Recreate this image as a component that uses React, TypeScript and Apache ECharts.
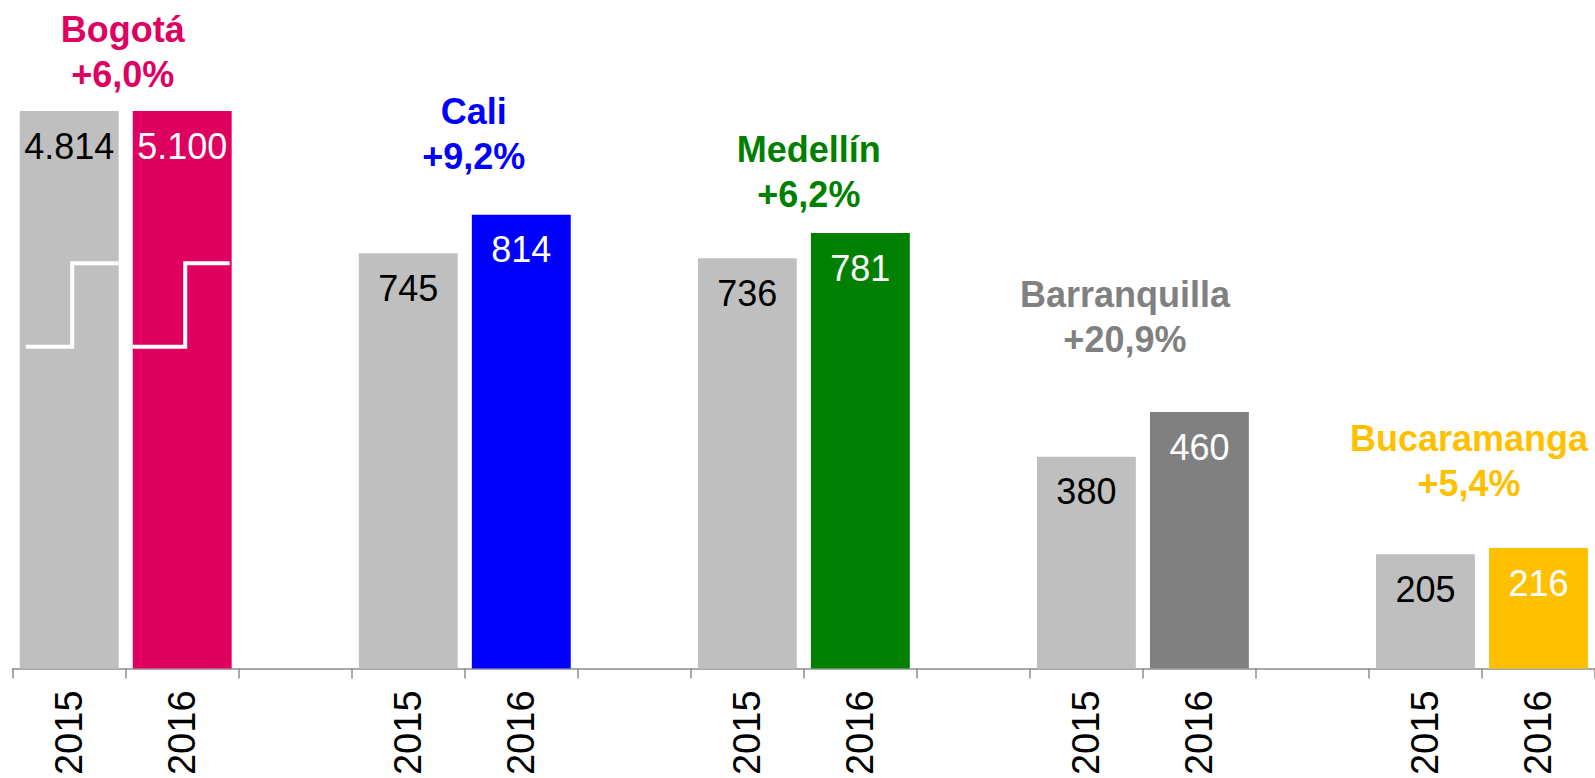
import React, { useEffect, useRef } from "react";
import * as echarts from "echarts";

// ---- data ----
const categories = ["2015", "2016", "", "2015", "2016", "", "2015", "2016", "", "2015", "2016", "", "2015", "2016"];
const cities = ["Bogotá", "Cali", "Medellín", "Barranquilla", "Bucaramanga"];
const growthLabels = ["+6,0%", "+9,2%", "+6,2%", "+20,9%", "+5,4%"];
const values2015 = [4814, 745, 736, 380, 205];
const values2016 = [5100, 814, 781, 460, 216];

// ---- styles / layout ----
const cityColors = ["#DF0060", "#0000FF", "#008000", "#808080", "#FFC000"];
const baseColor = "#BFBFBF";
const FONT = "'Liberation Sans', Arial, sans-serif";
const Y_MAX = 1000; // axis is cut: larger bars are drawn to the top with a break mark
const BREAK_LOW = 577;
const BREAK_HIGH = 727;
const labelLift = [14, 36, 16, 50, 42];
const labelShift = [-3, 9, 5, -18, -13];

const fmt = (v: number) => String(v).replace(/\B(?=(\d{3})+(?!\d))/g, ".");

function buildOption() {
  const raw: (number | null)[] = categories.map(() => null);
  const colors: string[] = categories.map(() => baseColor);
  cities.forEach((_, c) => {
    raw[3 * c] = values2015[c];
    raw[3 * c + 1] = values2016[c];
    colors[3 * c + 1] = cityColors[c];
  });

  const barData = raw.map((v, i) =>
    v == null
      ? "-"
      : {
          value: Math.min(v, Y_MAX),
          itemStyle: { color: colors[i] },
          label: { color: i % 3 === 0 ? "#000000" : "#FFFFFF" },
        }
  );

  const breakData = raw
    .map((v, i) => (v != null && v > Y_MAX ? [i, Y_MAX] : null))
    .filter((d) => d != null);

  const labelData = cities.map((_, c) => [3 * c + 1, Math.min(values2016[c], Y_MAX)]);

  return {
    animation: false,
    grid: { left: 12.7, top: 111, width: 14 * 113.2, height: 561, containLabel: false },
    xAxis: {
      type: "category",
      data: categories,
      axisLine: { lineStyle: { color: "#8C8C8C", width: 1.5 } },
      axisTick: { show: true, interval: 0, length: 10, lineStyle: { color: "#8C8C8C", width: 1.5 } },
      axisLabel: {
        interval: 0,
        rotate: 90,
        margin: 22,
        fontSize: 38,
        color: "#000000",
        fontFamily: FONT,
      },
    },
    yAxis: {
      type: "value",
      min: 0,
      max: Y_MAX,
      show: false,
      splitLine: { show: false },
    },
    series: [
      {
        type: "bar",
        data: barData,
        barWidth: "87.5%",
        label: {
          show: true,
          position: "insideTop",
          distance: 17,
          fontSize: 36,
          fontFamily: FONT,
          formatter: (p: any) => {
            const v = raw[p.dataIndex];
            return v == null ? "" : fmt(v);
          },
        },
        z: 2,
      },
      {
        type: "custom",
        data: breakData,
        encode: { x: 0, y: 1 },
        z: 5,
        silent: true,
        renderItem: (params: any, api: any) => {
          const idx = api.value(0);
          const cx = api.coord([idx, 0])[0];
          const bw = api.size([1, 0])[0] * 0.875;
          const left = cx - bw / 2;
          const right = cx + bw / 2;
          const yLow = api.coord([idx, BREAK_LOW])[1];
          const yHigh = api.coord([idx, BREAK_HIGH])[1];
          const step = cx + 3;
          return {
            type: "polyline",
            shape: {
              points: [
                [left + (idx % 3 === 0 ? 6 : 0), yLow],
                [step, yLow],
                [step, yHigh],
                [right - (idx % 3 === 0 ? 0 : 2), yHigh],
              ],
            },
            style: { stroke: "#FFFFFF", lineWidth: 4, fill: null },
          };
        },
      },
      {
        type: "custom",
        data: labelData,
        encode: { x: 0, y: 1 },
        z: 6,
        silent: true,
        renderItem: (params: any, api: any) => {
          const c = params.dataIndex;
          const i = api.value(0);
          const xa = api.coord([i - 1, 0])[0];
          const xb = api.coord([i, 0])[0];
          const y = api.coord([i, api.value(1)])[1];
          return {
            type: "text",
            x: (xa + xb) / 2 + labelShift[c],
            y: y - labelLift[c],
            style: {
              text: cities[c] + "\n" + growthLabels[c],
              fill: cityColors[c],
              fontSize: 36,
              fontWeight: "bold",
              fontFamily: FONT,
              align: "center",
              verticalAlign: "bottom",
              lineHeight: 45,
            },
          };
        },
      },
    ],
  };
}

export default function App() {
  const ref = useRef<HTMLDivElement>(null);
  useEffect(() => {
    if (!ref.current) return;
    const chart = echarts.init(ref.current, undefined, { renderer: "svg" });
    chart.setOption(buildOption() as any);
    return () => chart.dispose();
  }, []);
  return (
    <div
      ref={ref}
      style={{ position: "fixed", left: 0, top: 0, width: 1595, height: 778, background: "#FFFFFF" }}
    />
  );
}
